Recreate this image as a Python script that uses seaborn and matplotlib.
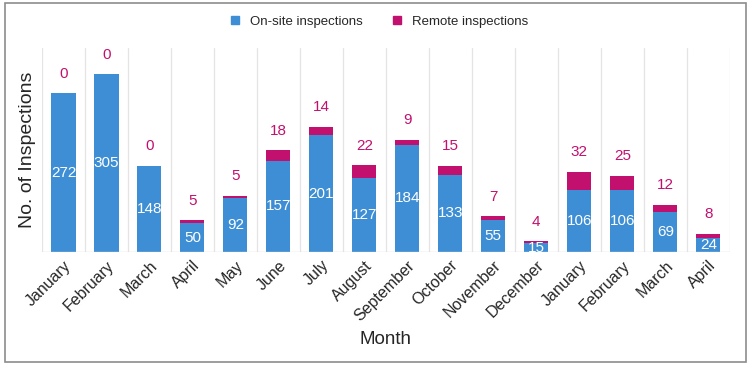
import pandas as pd
import matplotlib.pyplot as plt
import seaborn as sns
from matplotlib.lines import Line2D
from matplotlib.patches import Rectangle

months = ['January', 'February', 'March', 'April', 'May', 'June', 'July',
          'August', 'September', 'October', 'November', 'December',
          'January', 'February', 'March', 'April']
onsite = [272, 305, 148, 50, 92, 157, 201, 127, 184, 133, 55, 15, 106, 106, 69, 24]
remote = [0, 0, 0, 5, 5, 18, 14, 22, 9, 15, 7, 4, 32, 25, 12, 8]

blue = '#3d8ed4'
magenta = '#c2106e'

df = pd.DataFrame({'idx': range(len(months)), 'month': months,
                   'onsite': onsite, 'remote': remote})
df['total'] = df['onsite'] + df['remote']

sns.set_style('white')
plt.rcParams['font.family'] = ['Liberation Sans', 'DejaVu Sans']

fig = plt.figure(figsize=(7.5, 3.66), dpi=100)
ax = fig.add_axes([0.056, 0.311, 0.917, 0.558])

# stacked bars: total (remote on top) first, on-site drawn over it
sns.barplot(data=df, x='idx', y='total', color=magenta, width=0.56,
            saturation=1, linewidth=0, ax=ax)
sns.barplot(data=df, x='idx', y='onsite', color=blue, width=0.56,
            saturation=1, linewidth=0, ax=ax)

ax.set_ylim(0, 350)
ax.set_xlim(-0.5, len(months) - 0.5)

# light separators between categories
for i in range(len(months) + 1):
    ax.axvline(i - 0.5, color='#e4e4e4', lw=0.9, zorder=0)
ax.axhline(0, color='#d9d9d9', lw=1, zorder=1)

for s in ax.spines.values():
    s.set_visible(False)
ax.set_yticks([])

for i, row in df.iterrows():
    ax.text(i, row['onsite'] / 2, str(row['onsite']), color='white',
            ha='center', va='center', fontsize=11, zorder=5, clip_on=True)
    ax.annotate(str(row['remote']), (i, row['total']), xytext=(0, 14),
                textcoords='offset points', ha='center', va='center',
                color=magenta, fontsize=11)

ax.set_xticks(range(len(months)))
ax.set_xticklabels(months, rotation=45, ha='right', rotation_mode='anchor',
                   fontsize=11.5)
ax.tick_params(axis='x', length=0, pad=4)
ax.set_xlabel('Month', fontsize=13.5, labelpad=5)
ax.set_ylabel('No. of Inspections', fontsize=14, labelpad=4)

handles = [Line2D([], [], marker='s', ls='', color=blue, markersize=6),
           Line2D([], [], marker='s', ls='', color=magenta, markersize=6)]
fig.legend(handles, ['On-site inspections', 'Remote inspections'],
           loc='center', bbox_to_anchor=(0.5, 0.94), ncol=2, frameon=False,
           fontsize=9.5, handletextpad=0.1, columnspacing=1.6)

fig.patches.append(Rectangle((0.006, 0.01), 0.988, 0.982,
                             transform=fig.transFigure, fill=False,
                             edgecolor='#8c8c8c', lw=1.2))

fig.savefig('out.png', dpi=100)
